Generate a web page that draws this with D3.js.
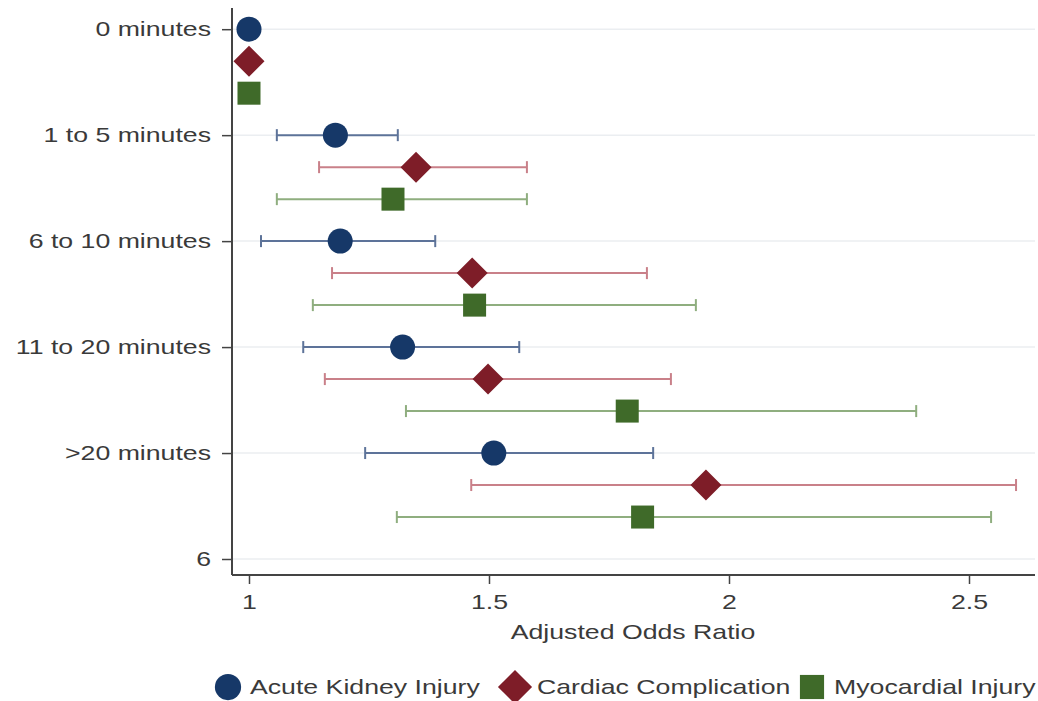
<!DOCTYPE html>
<html>
<head>
<meta charset="utf-8">
<script src="https://cdn.jsdelivr.net/npm/d3@7"></script>
<style>
  body { margin: 0; background: #fff; }
  text { font-family: "Liberation Sans", Arial, sans-serif; fill: #3a3a3a; }
</style>
</head>
<body>
<div id="chart"></div>
<script>
const w = 1038;
const h = 701;

const categories = ["0 minutes", "1 to 5 minutes", "6 to 10 minutes", "11 to 20 minutes", ">20 minutes", "6"];
const seriesNames = ["Acute Kidney Injury", "Cardiac Complication", "Myocardial Injury"];
const xTicks = [1, 1.5, 2, 2.5];

// odds ratio, lower CI, upper CI per category (first 5 categories)
const akiOR = [1, 1.18, 1.19, 1.32, 1.51];
const akiLo = [1, 1.058, 1.025, 1.113, 1.242];
const akiHi = [1, 1.31, 1.388, 1.563, 1.842];

const cardOR = [1, 1.348, 1.465, 1.498, 1.952];
const cardLo = [1, 1.146, 1.173, 1.158, 1.463];
const cardHi = [1, 1.579, 1.829, 1.879, 2.598];

const myoOR = [1, 1.30, 1.47, 1.788, 1.82];
const myoLo = [1, 1.058, 1.133, 1.327, 1.308];
const myoHi = [1, 1.579, 1.931, 2.39, 2.546];

const marginLeft = 232, marginRight = 1035, marginTop = 8, marginBottom = 575;
const k = 1.27; // the text in the picture is drawn wide
const fontSize = "21px";

let svg = d3.select("#chart").append("svg").attr("width", w).attr("height", h);

let x = d3.scaleLinear().domain([0.9646, 2.6375]).range([marginLeft, marginRight]);
let y = d3.scaleLinear().domain([-0.2, 5.151]).range([marginTop, marginBottom]);

const offset = 0.302; // within-group offset in category units

function wideText(g, tx, ty, str, anchor) {
  return g.append("text").attr("transform", "translate(" + tx + "," + ty + ") scale(" + k + ",1)")
    .attr("text-anchor", anchor).style("font-size", fontSize).text(str);
}

// gridlines
svg.append("g").selectAll("line").data(categories)
  .enter().append("line")
  .attr("x1", marginLeft).attr("x2", marginRight)
  .attr("y1", (d, i) => y(i)).attr("y2", (d, i) => y(i))
  .attr("stroke", "#ebeef1").attr("stroke-width", 1.5);

// axes
let yAxis = d3.axisLeft(y).tickValues(d3.range(categories.length))
  .tickFormat((d) => categories[d]).tickSize(10).tickPadding(11);
let gy = svg.append("g").attr("transform", "translate(" + marginLeft + ",0)").call(yAxis);
gy.select(".domain").attr("stroke", "#444").attr("stroke-width", 2).attr("d", "M0," + marginTop + "V" + marginBottom);
gy.selectAll(".tick line").attr("stroke", "#444").attr("stroke-width", 1.5);
gy.selectAll(".tick text").style("font-size", fontSize).attr("fill", "#3a3a3a")
  .attr("x", -21 / k).attr("transform", "scale(" + k + ",1)");

let xAxis = d3.axisBottom(x).tickValues(xTicks).tickFormat(d3.format("")).tickSize(9).tickPadding(10);
let gx = svg.append("g").attr("transform", "translate(0," + marginBottom + ")").call(xAxis);
gx.select(".domain").attr("stroke", "#444").attr("stroke-width", 2).attr("d", "M" + marginLeft + ",0H" + marginRight);
gx.selectAll(".tick line").attr("stroke", "#444").attr("stroke-width", 1.5);
gx.selectAll(".tick text").style("font-size", fontSize).attr("fill", "#3a3a3a").attr("transform", "scale(" + k + ",1)");

wideText(svg, 633, 639, "Adjusted Odds Ratio", "middle");

const series = [
  {name: seriesNames[0], or: akiOR, lo: akiLo, hi: akiHi, off: 0, line: "#5d7399", fill: "#163868", shape: "circle"},
  {name: seriesNames[1], or: cardOR, lo: cardLo, hi: cardHi, off: offset, line: "#c98089", fill: "#7e1d28", shape: "diamond"},
  {name: seriesNames[2], or: myoOR, lo: myoLo, hi: myoHi, off: 2 * offset, line: "#8fae7f", fill: "#3f6a29", shape: "square"}
];

function drawShape(g, shape, cx, cy, color, s) {
  if (shape == "circle") {
    g.append("circle").attr("cx", cx).attr("cy", cy).attr("r", 12.5 * s).attr("fill", color);
  } else if (shape == "diamond") {
    let r = 15.5 * s;
    g.append("path").attr("d", "M" + cx + "," + (cy - r) + "L" + (cx + r) + "," + cy + "L" + cx + "," + (cy + r) + "L" + (cx - r) + "," + cy + "Z").attr("fill", color);
  } else {
    let r = 11.5 * s;
    g.append("rect").attr("x", cx - r).attr("y", cy - r).attr("width", 2 * r).attr("height", 2 * r).attr("fill", color);
  }
}

series.forEach((s) => {
  let g = svg.append("g");
  s.or.forEach((v, i) => {
    let cy = y(i + s.off);
    if (s.hi[i] > s.lo[i]) {
      g.append("line").attr("x1", x(s.lo[i])).attr("x2", x(s.hi[i])).attr("y1", cy).attr("y2", cy)
        .attr("stroke", s.line).attr("stroke-width", 2);
      [s.lo[i], s.hi[i]].forEach((c) => {
        g.append("line").attr("x1", x(c)).attr("x2", x(c)).attr("y1", cy - 6).attr("y2", cy + 6)
          .attr("stroke", s.line).attr("stroke-width", 2);
      });
    }
    drawShape(g, s.shape, x(v), cy, s.fill, 1);
  });
});

// legend
const legendX = [228, 515, 812];
let lg = svg.append("g");
series.forEach((s, i) => {
  drawShape(lg, s.shape, legendX[i], 687, s.fill, s.shape == "diamond" ? 1.1 : 1.05);
  wideText(lg, legendX[i] + 22, 694, s.name, "start");
});
</script>
</body>
</html>
